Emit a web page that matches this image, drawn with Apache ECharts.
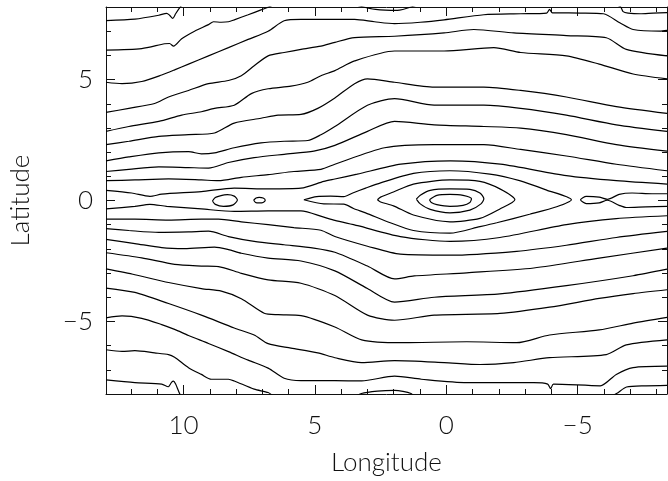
<!DOCTYPE html>
<html>
<head>
<meta charset="utf-8">
<script src="https://cdn.jsdelivr.net/npm/echarts@6/dist/echarts.min.js"></script>
<style>html,body{margin:0;padding:0;background:#fff}#chart{width:668px;height:481px}</style>
</head>
<body>
<div id="chart"></div>
<script>
// Axis ranges and tick values
const lonRange = [-8.4, 12.95];
const latRange = [-8, 8];
const lonMajorTicks = [-5, 0, 5, 10];
const lonMinorTicks = [-8, -7, -6, -5, -4, -3, -2, -1, 0, 1, 2, 3, 4, 5, 6, 7, 8, 9, 10, 11, 12];
const latMajorTicks = [-5, 0, 5];
const latMinorTicks = [-8, -7, -6, -5, -4, -3, -2, -1, 0, 1, 2, 3, 4, 5, 6, 7, 8];

// Contour lines [longitude, latitude] (northern half)
const T1 = [[12.95,7.44],[11.85,7.50],[10.94,7.66],[10.64,7.74],[10.53,7.66],[10.41,7.53],[10.30,7.72],[10.15,7.96],[10.00,8.16]];
const T2 = [[12.95,6.22],[11.59,6.28],[10.72,6.48],[10.53,6.49],[10.38,6.38],[10.07,6.69],[9.58,7.00],[9.05,7.27],[8.86,7.39],[8.56,7.37],[8.29,7.39],[8.07,7.47],[7.54,7.68],[7.05,7.88],[6.67,8.04],[6.29,8.29],[4.02,8.29],[3.30,8.04],[2.69,7.90],[1.86,7.86],[1.22,8.04],[0.61,8.29],[-5.82,8.29],[-6.62,8.02],[-6.73,7.81],[-6.92,7.75],[-7.38,7.72],[-7.87,7.75],[-8.40,7.77]];
const T3 = [[12.95,4.89],[12.34,4.83],[11.59,4.92],[10.83,5.19],[10.34,5.40],[9.81,5.64],[9.05,5.98],[8.29,6.32],[7.54,6.66],[6.78,7.00],[6.17,7.43],[5.53,7.49],[4.24,7.49],[3.49,7.49],[2.73,7.39],[1.97,7.31],[0.99,7.37],[0.08,7.47],[-1.43,7.68],[-2.83,7.72],[-3.82,7.75],[-3.93,7.90],[-4.04,7.76],[-5.11,7.75],[-5.98,7.72],[-6.62,7.34],[-7.11,7.07],[-8.13,7.00],[-8.40,7.03]];
const T4 = [[12.95,3.64],[12.08,3.81],[11.10,4.01],[10.57,4.28],[9.81,4.55],[9.05,4.83],[8.29,4.96],[7.80,5.16],[7.31,5.57],[6.78,5.98],[6.17,6.12],[5.53,6.25],[4.77,6.38],[4.24,6.54],[3.49,6.73],[1.97,6.79],[0.08,6.93],[-1.05,7.07],[-2.57,6.93],[-4.57,6.82],[-6.09,6.73],[-6.85,6.25],[-8.40,5.98]];
const T5 = [[12.95,2.86],[12.08,3.06],[10.94,3.27],[10.07,3.53],[9.32,3.67],[8.82,3.81],[8.07,3.94],[7.42,4.42],[6.78,4.62],[5.91,4.73],[5.27,4.89],[4.77,5.16],[4.24,5.37],[3.49,5.77],[1.97,6.18],[0.08,6.18],[-1.81,6.32],[-2.83,6.12],[-4.57,5.98],[-5.82,5.64],[-7.11,5.23],[-8.40,5.03]];
const T6 = [[12.95,2.31],[12.08,2.45],[10.94,2.65],[9.81,2.72],[8.82,2.79],[8.07,3.20],[7.05,3.40],[6.40,3.53],[5.53,3.56],[4.89,3.81],[4.24,4.24],[3.49,4.83],[3.00,5.03],[1.97,4.89],[0.46,4.69],[-1.43,4.69],[-2.83,4.55],[-4.57,4.28],[-6.47,3.88],[-8.40,3.60]];
const T7 = [[12.95,1.64],[12.08,1.80],[10.94,1.97],[9.81,2.02],[9.32,1.93],[8.82,1.97],[8.07,2.18],[7.05,2.38],[6.17,2.45],[5.27,2.48],[4.77,2.72],[4.24,3.06],[3.00,3.94],[1.97,4.21],[0.46,3.94],[-1.43,3.94],[-2.83,3.81],[-4.57,3.53],[-6.47,3.13],[-8.40,2.86]];
const T8 = [[12.95,1.20],[12.08,1.29],[10.94,1.39],[9.81,1.36],[9.05,1.34],[8.29,1.57],[7.31,1.77],[6.17,1.91],[5.04,2.04],[4.24,2.28],[3.00,2.86],[1.97,3.27],[0.46,3.13],[-1.43,3.06],[-2.83,2.99],[-4.57,2.72],[-6.47,2.31],[-8.40,2.04]];
const T9 = [[12.95,0.82],[11.85,0.85],[10.57,0.89],[9.32,0.85],[8.67,0.82],[7.80,0.96],[6.78,1.07],[5.80,1.20],[4.77,1.29],[4.24,1.50],[2.35,2.18],[0.46,2.31],[-1.43,2.31],[-2.83,2.11],[-4.57,1.84],[-6.47,1.50],[-8.40,1.23]];
const T10 = [[12.95,0.42],[11.97,0.31],[11.28,0.17],[10.83,0.26],[9.32,0.37],[8.07,0.51],[6.78,0.48],[5.53,0.51],[4.66,0.79],[4.24,0.89],[3.39,1.09],[1.73,1.50],[-0.16,1.64],[-2.06,1.50],[-4.57,1.03],[-6.47,0.82],[-8.40,0.68]];

// Southern half
const B10 = [[12.95,-0.35],[11.85,-0.24],[11.28,-0.16],[10.64,-0.24],[9.32,-0.35],[8.07,-0.45],[6.78,-0.43],[5.53,-0.43],[4.66,-0.69],[4.24,-0.82],[3.37,-1.04],[1.75,-1.49],[-0.14,-1.69],[-2.04,-1.53],[-4.57,-1.00],[-6.47,-0.75],[-8.40,-0.63]];
const B9 = [[12.95,-0.77],[11.85,-0.77],[10.57,-0.81],[9.32,-0.77],[8.67,-0.77],[7.80,-0.88],[6.78,-1.00],[5.80,-1.12],[4.77,-1.23],[4.24,-1.49],[3.00,-1.89],[1.75,-2.22],[-0.14,-2.26],[-2.68,-2.10],[-4.57,-1.85],[-6.47,-1.53],[-8.40,-1.28]];
const B8 = [[12.95,-1.16],[12.08,-1.24],[10.94,-1.32],[9.81,-1.30],[9.05,-1.27],[8.29,-1.49],[7.31,-1.69],[6.17,-1.83],[5.04,-1.97],[4.24,-2.14],[3.00,-2.71],[1.97,-3.24],[1.22,-3.12],[-0.78,-2.99],[-3.33,-2.79],[-5.82,-2.38],[-8.40,-1.97]];
const B7 = [[12.95,-1.61],[11.85,-1.78],[10.83,-1.95],[9.96,-1.99],[8.82,-1.93],[8.29,-2.03],[7.80,-2.18],[6.78,-2.38],[5.53,-2.50],[4.24,-2.91],[3.00,-3.64],[1.97,-4.20],[0.46,-4.00],[-2.04,-3.86],[-4.57,-3.52],[-7.11,-3.11],[-8.40,-2.84]];
const B6 = [[12.95,-2.16],[11.59,-2.37],[10.34,-2.64],[9.32,-2.71],[8.67,-2.73],[7.80,-3.01],[6.78,-3.28],[5.53,-3.42],[4.24,-3.93],[3.00,-4.74],[1.97,-4.95],[0.46,-4.74],[-2.04,-4.67],[-3.93,-4.41],[-5.82,-4.05],[-7.11,-3.85],[-8.40,-3.69]];
const B5 = [[12.95,-2.83],[11.85,-3.07],[10.57,-3.39],[9.32,-3.64],[8.56,-3.75],[7.80,-4.06],[6.93,-4.66],[6.40,-4.72],[5.53,-4.76],[4.24,-5.23],[3.22,-5.76],[1.75,-5.88],[-0.78,-5.84],[-2.68,-5.88],[-3.93,-5.56],[-5.82,-5.35],[-7.11,-5.07],[-8.40,-4.83]];
const B4 = [[12.95,-3.62],[11.85,-3.80],[10.57,-4.26],[9.32,-4.74],[8.07,-5.27],[7.31,-5.56],[6.78,-5.92],[5.91,-6.10],[4.89,-6.30],[4.24,-6.50],[3.22,-6.70],[1.97,-6.62],[0.08,-6.70],[-1.28,-6.78],[-2.57,-6.70],[-3.93,-6.50],[-6.09,-6.37],[-6.85,-5.97],[-8.40,-5.76]];
const B3 = [[12.95,-4.85],[12.34,-4.77],[11.59,-4.87],[10.83,-5.13],[10.34,-5.33],[9.81,-5.58],[9.05,-5.91],[8.29,-6.25],[7.54,-6.60],[6.78,-6.93],[6.17,-7.35],[5.53,-7.45],[4.24,-7.45],[3.22,-7.46],[1.97,-7.26],[0.95,-7.39],[-0.78,-7.53],[-3.33,-7.53],[-3.86,-7.59],[-3.97,-7.78],[-4.08,-7.59],[-5.86,-7.66],[-6.47,-7.19],[-7.11,-6.91],[-8.40,-6.85]];
const B2 = [[12.95,-6.17],[12.34,-6.24],[11.85,-6.21],[11.10,-6.30],[10.57,-6.37],[10.34,-6.48],[9.81,-6.91],[9.32,-7.19],[8.94,-7.39],[8.29,-7.39],[8.07,-7.46],[7.31,-7.80],[6.78,-7.94],[6.59,-8.08],[6.29,-8.33],[4.02,-8.33],[3.23,-7.98],[2.62,-7.88],[1.97,-7.85],[1.34,-7.98],[0.99,-8.33],[-5.82,-8.33],[-6.48,-7.98],[-6.86,-7.71],[-7.60,-7.66],[-8.40,-7.64]];
const B1 = [[12.95,-7.42],[11.85,-7.53],[10.83,-7.59],[10.58,-7.70],[10.45,-7.51],[10.38,-7.47],[10.30,-7.59],[10.19,-7.88],[10.07,-8.17],[9.92,-8.41]];

// Equatorial closed / open contours
const loopA1 = [[8.90,-0.02],[8.79,0.12],[8.64,0.18],[8.33,0.24],[8.07,0.18],[7.95,0.02],[8.11,-0.18],[8.48,-0.24],[8.79,-0.16],[8.90,-0.02]];
const loopA2 = [[7.33,0.01],[7.24,0.10],[7.12,0.13],[6.97,0.10],[6.89,0.01],[6.97,-0.08],[7.12,-0.10],[7.26,-0.08],[7.33,0.01]];
const lensA = [[5.42,0.03],[4.93,0.16],[4.40,0.18],[3.90,0.16],[3.56,0.31],[3.07,0.51],[2.50,0.73],[1.25,1.12],[-0.14,1.23],[-1.66,1.09],[-2.79,0.82],[-3.82,0.43],[-4.76,0.03],[-4.20,-0.26],[-3.17,-0.57],[-1.92,-0.92],[-1.28,-1.08],[-0.14,-1.35],[1.25,-1.24],[2.13,-0.92],[3.07,-0.51],[3.53,-0.33],[3.90,-0.15],[4.66,-0.14],[5.42,0.03]];
const rightA = [[-8.40,0.28],[-7.83,0.28],[-7.07,0.31],[-6.58,0.25],[-6.13,0.05],[-5.82,0.14],[-5.33,0.17],[-5.11,0.03],[-5.33,-0.13],[-5.82,-0.10],[-6.13,0.01],[-6.58,-0.20],[-6.85,-0.29],[-7.60,-0.26],[-8.40,-0.24]];
const lensB = [[2.62,0.03],[2.50,0.14],[2.01,0.35],[1.25,0.68],[-0.14,0.85],[-1.28,0.79],[-2.04,0.48],[-2.61,0.03],[-2.04,-0.35],[-1.28,-0.74],[-0.14,-0.88],[1.25,-0.60],[2.01,-0.22],[2.50,-0.06],[2.62,0.03]];
const ringC = [[1.14,0.06],[0.99,0.22],[0.61,0.42],[-0.14,0.48],[-0.90,0.46],[-1.28,0.31],[-1.43,0.07],[-1.32,-0.14],[-0.90,-0.40],[-0.14,-0.51],[0.61,-0.37],[0.99,-0.14],[1.14,0.06]];
const innerD = [[0.64,0.03],[0.36,0.21],[-0.14,0.25],[-0.64,0.21],[-0.96,0.07],[-0.90,-0.08],[-0.64,-0.20],[-0.14,-0.24],[0.36,-0.17],[0.57,-0.08],[0.64,0.03]];

const contours = [T1,T2,T3,T4,T5,T6,T7,T8,T9,T10,B10,B9,B8,B7,B6,B5,B4,B3,B2,B1,loopA1,loopA2,lensA,rightA,lensB,ringC,innerD];

const FONT = "Lato, 'DejaVu Sans', sans-serif";
const INK = '#111';
const fmt = v => (v < 0 ? '\u2212' + Math.abs(v) : String(v));

function axisPair(kind, position, range, major, minor, extra) {
  const base = {
    type: 'value', position: position, min: range[0], max: range[1],
    splitLine: {show: false}, scale: false
  };
  if (kind === 'x') base.inverse = true;
  const main = Object.assign({}, base, {
    axisLine: {show: true, onZero: false, lineStyle: {color: INK, width: 1}},
    axisTick: {show: true, inside: true, length: 9, customValues: major, lineStyle: {color: INK, width: 1}},
    axisLabel: {show: false, customValues: major}
  }, extra || {});
  const sub = Object.assign({}, base, {
    axisLine: {show: false, onZero: false},
    axisTick: {show: true, inside: true, length: 5, customValues: minor, lineStyle: {color: INK, width: 1}},
    axisLabel: {show: false}
  });
  return [main, sub];
}

const labelStyle = {fontSize: 26, fontFamily: FONT, fontWeight: 300, color: INK};

const xAxes = [].concat(
  axisPair('x', 'bottom', lonRange, lonMajorTicks, lonMinorTicks, {
    axisLabel: Object.assign({show: true, customValues: lonMajorTicks, formatter: fmt, margin: 19}, labelStyle),
    name: 'Longitude', nameLocation: 'middle', nameGap: 56,
    nameTextStyle: Object.assign({}, labelStyle)
  }),
  axisPair('x', 'top', lonRange, lonMajorTicks, lonMinorTicks)
);
const yAxes = [].concat(
  axisPair('y', 'left', latRange, latMajorTicks, latMinorTicks, {
    axisLabel: Object.assign({show: true, customValues: latMajorTicks, formatter: fmt, margin: 13}, labelStyle),
    name: 'Latitude', nameLocation: 'middle', nameGap: 72, nameRotate: 90,
    nameTextStyle: Object.assign({}, labelStyle)
  }),
  axisPair('y', 'right', latRange, latMajorTicks, latMinorTicks)
);

const series = contours.map(c => ({
  type: 'line', data: c, xAxisIndex: 0, yAxisIndex: 0,
  showSymbol: false, symbol: 'none', smooth: 0.25, clip: true,
  lineStyle: {color: '#000', width: 1.2}, silent: true, animation: false
}));

const chart = echarts.init(document.getElementById('chart'), null, {renderer: 'canvas'});
chart.setOption({
  backgroundColor: '#fff',
  animation: false,
  grid: {left: 104, right: 1, top: 7, bottom: 81, containLabel: false},
  xAxis: xAxes,
  yAxis: yAxes,
  series: series
});
</script>
</body>
</html>
